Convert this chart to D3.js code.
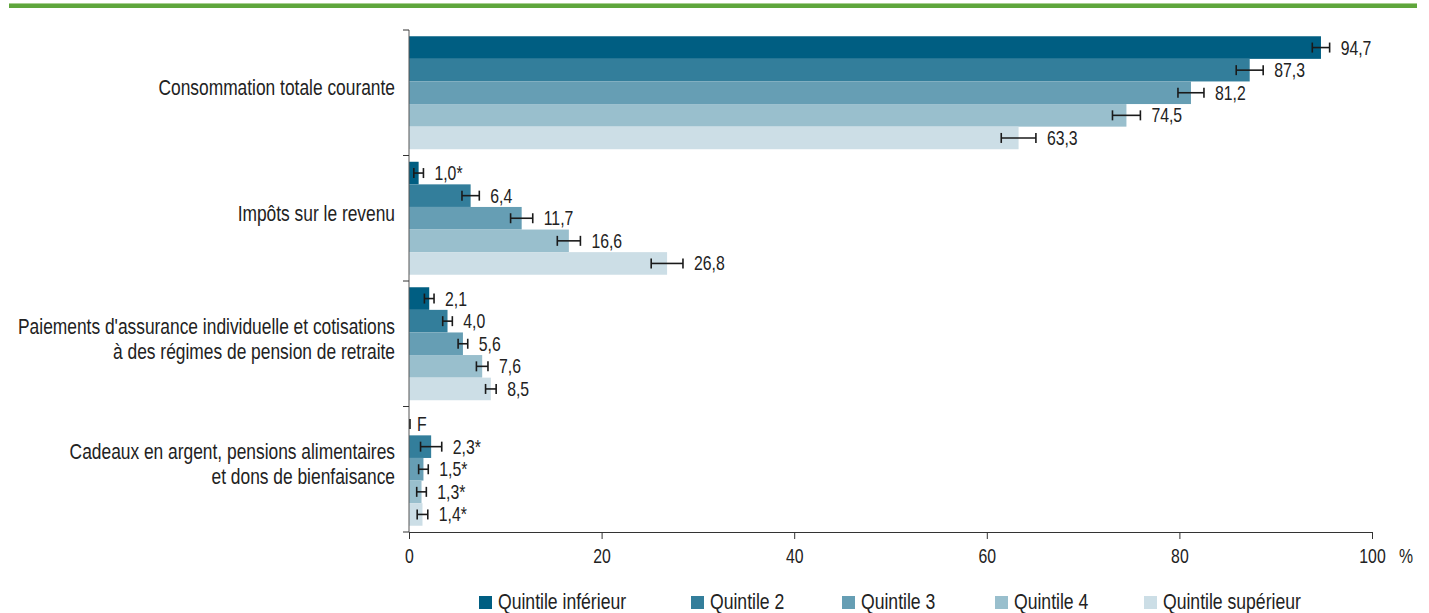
<!DOCTYPE html>
<html>
<head>
<meta charset="utf-8">
<script src="https://cdn.jsdelivr.net/npm/d3@7/dist/d3.min.js"></script>
<style>
  html, body { margin: 0; padding: 0; background: #fff; }
  svg { display: block; }
  text { font-family: "Liberation Sans", Arial, sans-serif; fill: #222; }
</style>
</head>
<body>
<svg id="chart" width="1429" height="613"></svg>
<script>
// Categories (each entry holds the lines of its label)
const categories = [
  ["Consommation totale courante"],
  ["Impôts sur le revenu"],
  ["Paiements d'assurance individuelle et cotisations", "à des régimes de pension de retraite"],
  ["Cadeaux en argent, pensions alimentaires", "et dons de bienfaisance"]
];
const quintiles = ["Quintile inférieur", "Quintile 2", "Quintile 3", "Quintile 4", "Quintile supérieur"];

// Share of income (%) by quintile, one array per quintile, in category order
const q1 = [94.7, 1.0, 2.1, null];
const q2 = [87.3, 6.4, 4.0, 2.3];
const q3 = [81.2, 11.7, 5.6, 1.5];
const q4 = [74.5, 16.6, 7.6, 1.3];
const q5 = [63.3, 26.8, 8.5, 1.4];

// Half-width of the 95% confidence interval
const e1 = [0.9, 0.5, 0.5, null];
const e2 = [1.4, 0.9, 0.5, 1.1];
const e3 = [1.35, 1.15, 0.5, 0.5];
const e4 = [1.45, 1.2, 0.6, 0.5];
const e5 = [1.8, 1.65, 0.55, 0.55];

// Quality flags: "*" use with caution, "F" too unreliable to be published
const f1 = ["", "*", "", "F"];
const f2 = ["", "", "", "*"];
const f3 = ["", "", "", "*"];
const f4 = ["", "", "", "*"];
const f5 = ["", "", "", "*"];

const xTicks = [0, 20, 40, 60, 80, 100];
const colors = ["#005e82", "#337e9b", "#669eb4", "#99bfcd", "#ccdee6"];

const values = [q1, q2, q3, q4, q5];
const errors = [e1, e2, e3, e4, e5];
const flags = [f1, f2, f3, f4, f5];

const rows = [];
categories.forEach((c, ci) => {
  quintiles.forEach((q, qi) => {
    rows.push({ cat: ci, q: qi, v: values[qi][ci], e: errors[qi][ci], flag: flags[qi][ci] });
  });
});

const svg = d3.select("#chart");
const plotL = 409, plotR = 1372, plotT = 30, plotB = 532;
const narrow = 0.79;   // horizontal squeeze giving a condensed face

const x = d3.scaleLinear().domain([0, 100]).range([plotL, plotR]);
const y = d3.scaleBand().domain(d3.range(categories.length)).range([plotT, plotB]).paddingInner(0).paddingOuter(0);
const yq = d3.scaleBand().domain(d3.range(quintiles.length)).range([0, y.bandwidth()]).paddingInner(0).paddingOuter(0.277);

// Green rule across the top
svg.append("rect").attr("x", 9).attr("y", 3).attr("width", 1408).attr("height", 1).attr("fill", "#a9cf91");
svg.append("rect").attr("x", 9).attr("y", 4).attr("width", 1408).attr("height", 4).attr("fill", "#5fa63c");

const fmt = v => d3.format(".1f")(v).replace(".", ",");

// Bars
svg.append("g").selectAll("rect")
  .data(rows.filter(d => d.v != null))
  .join("rect")
  .attr("x", x(0))
  .attr("y", d => y(d.cat) + yq(d.q))
  .attr("width", d => x(d.v) - x(0))
  .attr("height", yq.bandwidth())
  .attr("fill", d => colors[d.q]);

// Category axis: vertical line with ticks between groups
const yAxis = svg.append("g");
yAxis.append("line").attr("x1", plotL).attr("x2", plotL).attr("y1", plotT).attr("y2", plotB)
  .attr("stroke", "#555").attr("stroke-width", 1);
yAxis.selectAll("line.tick")
  .data(d3.range(categories.length + 1))
  .join("line").attr("class", "tick")
  .attr("x1", plotL - 6).attr("x2", plotL)
  .attr("y1", d => d < categories.length ? y(d) : plotB)
  .attr("y2", d => d < categories.length ? y(d) : plotB)
  .attr("stroke", "#333").attr("stroke-width", 1);

// Value axis
const xAxis = svg.append("g").attr("transform", `translate(0,${plotB})`)
  .call(d3.axisBottom(x).tickValues(xTicks).tickSize(7).tickSizeOuter(0).tickPadding(10).tickFormat(d3.format("d")));
xAxis.select(".domain").attr("stroke", "#333");
xAxis.selectAll(".tick line").attr("stroke", "#333");
xAxis.selectAll(".tick text").attr("font-size", 20).attr("fill", "#222")
  .attr("transform", `scale(${narrow},1)`);
svg.append("text").attr("transform", `translate(${plotR + 27},563) scale(${narrow},1)`)
  .attr("font-size", 20).text("%");

// Category labels
categories.forEach((lines, ci) => {
  const cy = y(ci) + y.bandwidth() / 2 - 5;
  const lh = 25;
  const t = svg.append("text").attr("text-anchor", "end").attr("font-size", 22)
    .attr("transform", `translate(395,${cy}) scale(${narrow},1)`);
  lines.forEach((ln, li) => {
    t.append("tspan").attr("x", 0)
      .attr("y", (li - (lines.length - 1) / 2) * lh)
      .attr("dy", "0.35em").text(ln);
  });
});

// Error bars
const eb = svg.append("g").attr("stroke", "#1a1a1a").attr("stroke-width", 1.6).attr("fill", "none");
rows.forEach(d => {
  const cy = y(d.cat) + yq(d.q) + yq.bandwidth() / 2;
  if (d.v == null) {
    eb.append("line").attr("x1", x(0) + 1).attr("x2", x(0) + 1).attr("y1", cy - 5).attr("y2", cy + 5);
    return;
  }
  const x0 = x(d.v - d.e), x1 = x(d.v + d.e);
  eb.append("line").attr("x1", x0).attr("x2", x1).attr("y1", cy).attr("y2", cy);
  eb.append("line").attr("x1", x0).attr("x2", x0).attr("y1", cy - 5).attr("y2", cy + 5);
  eb.append("line").attr("x1", x1).attr("x2", x1).attr("y1", cy - 5).attr("y2", cy + 5);
});

// Value labels
svg.append("g").selectAll("text")
  .data(rows)
  .join("text")
  .attr("transform", d => {
    const lx = d.v == null ? x(0) + 8 : x(d.v + d.e) + 11;
    const ly = y(d.cat) + yq(d.q) + yq.bandwidth() / 2;
    return `translate(${lx},${ly}) scale(${narrow},1)`;
  })
  .attr("dy", "0.35em")
  .attr("font-size", 20)
  .text(d => d.v == null ? d.flag : fmt(d.v) + d.flag);

// Legend
const legendX = [479, 691, 842, 995, 1144];
const lg = svg.append("g");
quintiles.forEach((q, i) => {
  lg.append("rect").attr("x", legendX[i]).attr("y", 596).attr("width", 13).attr("height", 13).attr("fill", colors[i]);
  lg.append("text").attr("transform", `translate(${legendX[i] + 19},609) scale(0.8,1)`)
    .attr("font-size", 22).text(q);
});
</script>
</body>
</html>
